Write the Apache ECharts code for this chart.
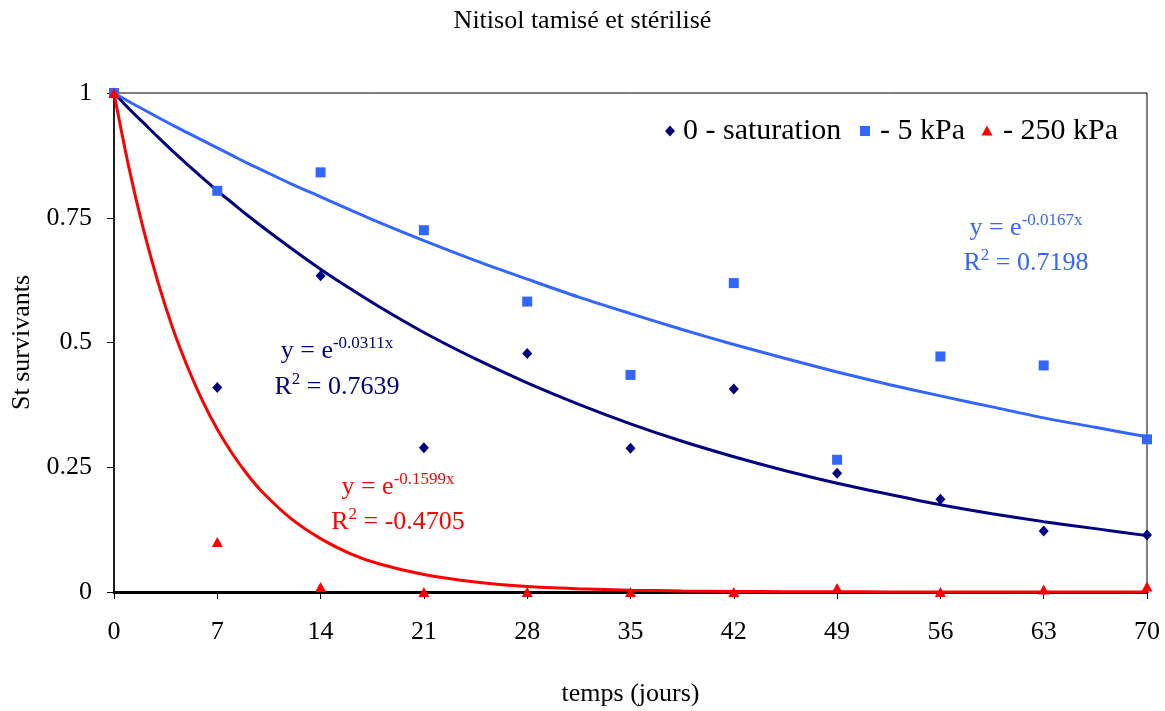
<!DOCTYPE html>
<html>
<head>
<meta charset="utf-8">
<script src="https://cdn.jsdelivr.net/npm/echarts@6/dist/echarts.min.js"></script>
<style>
html,body{margin:0;padding:0;background:#fff;}
#chart{width:1165px;height:711px;}
</style>
</head>
<body>
<div id="chart"></div>
<script>
// Observation days
var days = [0, 7, 14, 21, 28, 35, 42, 49, 56, 63, 70];
var saturation = [1, 0.41, 0.634, 0.289, 0.478, 0.288, 0.407, 0.238, 0.186, 0.122, 0.114];
var kPa5 = [1, 0.804, 0.841, 0.725, 0.582, 0.435, 0.619, 0.265, 0.472, 0.454, 0.306];
var kPa250 = [1, 0.1, 0.01, 0, 0, 0, 0, 0.008, 0, 0.005, 0.011];
// Trend curves, values
var trendX = [0, 1, 2, 3, 4, 5, 6, 7, 8, 9, 10, 12, 14, 16, 18, 21, 24.5, 28, 31.5, 35, 38.5, 42, 45.5, 49, 52.5, 56, 59.5, 63, 66.5, 70];
var trendSat = [1, 0.969, 0.940, 0.911, 0.883, 0.856, 0.830, 0.804, 0.780, 0.756, 0.733, 0.689, 0.647, 0.608, 0.571, 0.520, 0.467, 0.419, 0.376, 0.337, 0.302, 0.271, 0.243, 0.218, 0.196, 0.175, 0.157, 0.141, 0.127, 0.113];
var trend5 = [1, 0.983, 0.967, 0.951, 0.935, 0.920, 0.905, 0.890, 0.875, 0.860, 0.846, 0.818, 0.792, 0.766, 0.740, 0.704, 0.664, 0.627, 0.591, 0.558, 0.526, 0.496, 0.468, 0.441, 0.416, 0.393, 0.371, 0.349, 0.330, 0.311];
var trend250 = [1, 0.852, 0.726, 0.619, 0.527, 0.450, 0.383, 0.326, 0.278, 0.237, 0.202, 0.147, 0.107, 0.077, 0.056, 0.035, 0.020, 0.011, 0.0065, 0.0037, 0.0021, 0.0012, 0.0007, 0.0004, 0.0002, 0.0001, 0.0001, 0, 0, 0];
// Tick labels / texts
var seriesNames = ['0 - saturation', '- 5 kPa', '- 250 kPa'];
var colors = ['#000080', '#3366FF', '#FF0000'];
var eqTexts = [
  {exp: '-0.0311x', r2: '0.7639'},
  {exp: '-0.0167x', r2: '0.7198'},
  {exp: '-0.1599x', r2: '-0.4705'}
];

function pairs(xs, ys){ return xs.map(function(x,i){ return [x, ys[i]]; }); }

var serif = '"Liberation Serif", "Times New Roman", serif';
var chart = echarts.init(document.getElementById('chart'));

function eqGraphic(i, cx, y1, y2){
  var c = colors[i];
  var rich = { b:{fontSize:26, fontFamily:serif, fill:c, lineHeight:32}, s:{fontSize:17, fontFamily:serif, fill:c, lineHeight:15, verticalAlign:'top'} };
  return [
    {type:'text', x: cx, y: y1, style:{
      text: '{b|y = e}{s|' + eqTexts[i].exp + '}',
      align:'center', verticalAlign:'middle', rich: rich
    }, z: 100},
    {type:'text', x: cx, y: y2, style:{
      text: '{b|R}{s|2}{b| = ' + eqTexts[i].r2 + '}',
      align:'center', verticalAlign:'middle', rich: rich
    }, z: 100}
  ];
}

// Legend drawn as graphic elements so that the serif font is honoured
function legendGraphic(){
  var cy = 131;
  var iconX = [670, 865, 987];
  var textX = [683, 880, 1003];
  var els = [];
  els.push({type:'polygon', shape:{points:[[iconX[0],cy-5.5],[iconX[0]+5,cy],[iconX[0],cy+5.5],[iconX[0]-5,cy]]}, style:{fill:colors[0]}, z:100});
  els.push({type:'rect', shape:{x:iconX[1]-5, y:cy-5, width:10, height:10}, style:{fill:colors[1]}, z:100});
  els.push({type:'polygon', shape:{points:[[iconX[2],cy-5.5],[iconX[2]+5.5,cy+4.5],[iconX[2]-5.5,cy+4.5]]}, style:{fill:colors[2]}, z:100});
  for (var i = 0; i < 3; i++) {
    els.push({type:'text', x:textX[i], y:cy, style:{text:seriesNames[i], fontFamily:serif, fontSize:30, fill:'#000', align:'left', verticalAlign:'middle'}, z:100});
  }
  return els;
}

var option = {
  backgroundColor:'#fff',
  animation:false,
  title:{ text:'Nitisol tamisé et stérilisé', left:'center', top:3,
    textStyle:{fontFamily:serif, fontSize:26, fontWeight:'normal', color:'#000'} },
  grid:{ left:114, right:18, top:93, bottom:119, show:true, borderColor:'#000', borderWidth:1, backgroundColor:'transparent', outerBoundsMode:'none', containLabel:false },
  xAxis:{
    type:'value', min:0, max:70, interval:7,
    name:'temps (jours)', nameLocation:'middle', nameGap:89,
    nameTextStyle:{fontFamily:serif, fontSize:26, color:'#000'},
    axisLine:{onZero:false, lineStyle:{color:'#000', width:3}},
    axisTick:{show:true, length:7, lineStyle:{color:'#000', width:1}},
    axisLabel:{fontFamily:serif, fontSize:26, color:'#000', margin:27},
    splitLine:{show:false}
  },
  yAxis:{
    type:'value', min:0, max:1, interval:0.25,
    name:'St survivants', nameLocation:'middle', nameGap:72,
    nameTextStyle:{fontFamily:serif, fontSize:26, color:'#000'},
    axisLine:{show:true, lineStyle:{color:'#000', width:1.5}},
    axisTick:{show:true, length:7, lineStyle:{color:'#000', width:1}},
    axisLabel:{fontFamily:serif, fontSize:26, color:'#000', margin:22},
    splitLine:{show:false}
  },
  series:[
    {name:'trendSat', type:'line', data:pairs(trendX, trendSat), showSymbol:false, smooth:0.3,
      lineStyle:{color:colors[0], width:3}, z:3, silent:true},
    {name:'trend5', type:'line', data:pairs(trendX, trend5), showSymbol:false, smooth:0.3,
      lineStyle:{color:colors[1], width:3}, z:3, silent:true},
    {name:'trend250', type:'line', data:pairs(trendX, trend250), showSymbol:false, smooth:0.3,
      lineStyle:{color:colors[2], width:3}, z:3, silent:true},
    {name:seriesNames[0], type:'scatter', data:pairs(days, saturation), symbol:'diamond', symbolSize:[10,11],
      itemStyle:{color:colors[0], opacity:1}, z:5},
    {name:seriesNames[1], type:'scatter', data:pairs(days, kPa5), symbol:'rect', symbolSize:10,
      itemStyle:{color:colors[1], opacity:1}, z:5},
    {name:seriesNames[2], type:'scatter', data:pairs(days, kPa250), symbol:'triangle', symbolSize:[11,10],
      itemStyle:{color:colors[2], opacity:1}, z:5}
  ],
  graphic: [].concat(legendGraphic(), eqGraphic(0, 337, 351, 387), eqGraphic(1, 1026, 228, 263), eqGraphic(2, 398, 487, 522))
};
chart.setOption(option);
</script>
</body>
</html>
